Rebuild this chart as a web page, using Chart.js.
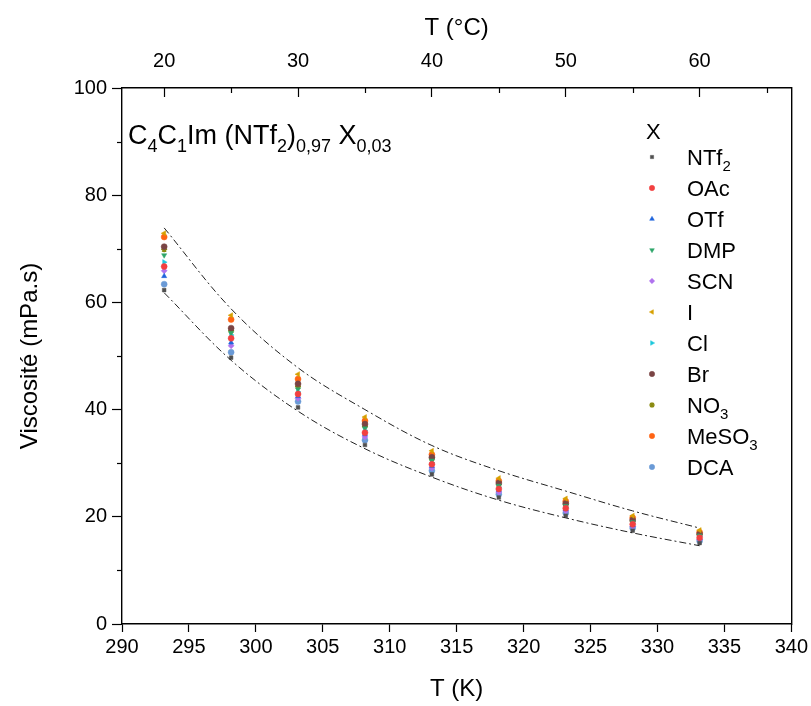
<!DOCTYPE html>
<html>
<head>
<meta charset="utf-8">
<script src="https://cdn.jsdelivr.net/npm/chart.js@4"></script>
<style>
  html, body { margin: 0; padding: 0; background: #ffffff; }
  #wrap { width: 811px; height: 706px; }
</style>
</head>
<body>
<div id="wrap"><canvas id="viscChart" width="811" height="706"></canvas></div>
<script>
// temperatures (K)
var temps = [293.15, 298.15, 303.15, 308.15, 313.15, 318.15, 323.15, 328.15, 333.15];

// viscosity (mPa.s) per anion X
var ntf2  = [62.3, 49.7, 40.4, 33.4, 27.9, 23.6, 20.2, 17.4, 15.1];
var oac   = [66.7, 53.3, 42.9, 35.7, 29.8, 25.2, 21.6, 18.6, 16.1];
var otf   = [64.9, 52.5, 42.5, 35.4, 29.5, 25.0, 21.4, 18.4, 16.0];
var dmp   = [68.8, 54.3, 43.8, 36.5, 30.5, 25.8, 22.0, 19.0, 16.5];
var scn   = [65.9, 51.9, 42.1, 34.9, 29.1, 24.6, 21.1, 18.2, 15.8];
var iod   = [72.9, 57.6, 46.6, 38.6, 32.3, 27.2, 23.4, 20.2, 17.5];
var cl    = [67.5, 53.9, 43.3, 36.1, 30.1, 25.5, 21.8, 18.8, 16.3];
var br    = [70.4, 55.2, 44.8, 37.3, 31.1, 26.3, 22.5, 19.4, 16.8];
var no3   = [69.9, 54.7, 44.3, 36.9, 30.8, 26.0, 22.3, 19.2, 16.7];
var meso3 = [72.2, 56.8, 45.7, 37.9, 31.6, 26.7, 22.9, 19.8, 17.1];
var dca   = [63.4, 50.7, 41.5, 34.3, 28.6, 24.2, 20.7, 17.9, 15.5];

// envelope curves (dash-dot)
var upperEnv = [73.9, 58.8, 47.8, 40.0, 33.3, 28.6, 24.8, 21.1, 17.9];
var lowerEnv = [61.8, 49.2, 39.7, 32.7, 27.4, 23.1, 19.8, 17.0, 14.6];

var seriesNames = ["NTf_{2}", "OAc", "OTf", "DMP", "SCN", "I", "Cl", "Br", "NO_{3}", "MeSO_{3}", "DCA"];
var seriesValues = [ntf2, oac, otf, dmp, scn, iod, cl, br, no3, meso3, dca];
var seriesColors = ["#505050", "#f24040", "#1f64dc", "#2ea66a", "#b072ee", "#d6a000", "#1cc8dc", "#7a4444", "#8a8a10", "#ff6414", "#6a9ad6"];
var seriesShapes = ["rect", "circle", "triangle", "triangle", "rectRot", "triangle", "triangle", "circle", "star", "circle", "circle"];
var seriesRot = [0, 0, 0, 180, 0, -90, 90, 0, 0, 0, 0];

var kTicks = [290, 295, 300, 305, 310, 315, 320, 325, 330, 335, 340];
var cTicks = [20, 30, 40, 50, 60];
var cMinor = [25, 35, 45, 55, 65];
var yMinor = [10, 30, 50, 70, 90];

var FONT = "'Liberation Sans', Arial, sans-serif";

function toXY(ys) {
  return ys.map(function (v, i) { return { x: temps[i], y: v }; });
}

var datasets = [];
datasets.push({
  type: 'line', label: 'upper', data: toXY(upperEnv),
  borderColor: '#222222', borderWidth: 1, borderDash: [7, 3, 2, 3],
  pointRadius: 0, tension: 0.35, fill: false
});
datasets.push({
  type: 'line', label: 'lower', data: toXY(lowerEnv),
  borderColor: '#222222', borderWidth: 1, borderDash: [7, 3, 2, 3],
  pointRadius: 0, tension: 0.35, fill: false
});
seriesNames.forEach(function (name, i) {
  datasets.push({
    type: 'scatter', label: name, data: toXY(seriesValues[i]),
    backgroundColor: seriesColors[i], borderColor: seriesColors[i],
    borderWidth: seriesShapes[i] === 'star' ? 1.4 : 0.5,
    pointStyle: seriesShapes[i], rotation: seriesRot[i],
    pointRadius: seriesShapes[i] === 'rect' ? 2.6 : 3
  });
});

// draw "A_{b}" style text with subscripts
function drawRich(ctx, str, x, y, size) {
  var parts = str.split(/(_\{[^}]*\})/);
  ctx.textBaseline = 'alphabetic';
  ctx.textAlign = 'left';
  parts.forEach(function (p) {
    if (!p) return;
    if (p.charAt(0) === '_') {
      var t = p.slice(2, -1);
      ctx.font = Math.round(size * 0.68) + 'px ' + FONT;
      ctx.fillText(t, x, y + size * 0.28);
      x += ctx.measureText(t).width;
    } else {
      ctx.font = size + 'px ' + FONT;
      ctx.fillText(p, x, y);
      x += ctx.measureText(p).width;
    }
  });
}

var decor = {
  id: 'decor',
  afterDraw: function (chart) {
    var ctx = chart.ctx;
    var sy = chart.scales.y, st = chart.scales.x2;
    var area = chart.chartArea;
    ctx.save();
    // minor ticks
    ctx.strokeStyle = '#000';
    ctx.lineWidth = 1.2;
    yMinor.forEach(function (v) {
      var py = Math.round(sy.getPixelForValue(v)) + 0.5;
      ctx.beginPath(); ctx.moveTo(area.left - 5, py); ctx.lineTo(area.left, py); ctx.stroke();
    });
    cMinor.forEach(function (v) {
      var px = Math.round(st.getPixelForValue(v)) + 0.5;
      ctx.beginPath(); ctx.moveTo(px, area.top); ctx.lineTo(px, area.top + 5); ctx.stroke();
    });
    // composition label
    ctx.fillStyle = '#000';
    drawRich(ctx, 'C_{4}C_{1}Im (NTf_{2})_{0,97} X_{0,03}', 128, 144, 27);
    // legend
    ctx.font = '22px ' + FONT;
    ctx.fillText('X', 646, 139);
    chart.data.datasets.forEach(function (ds, i) {
      if (ds.type !== 'scatter') return;
      var k = i - 2;
      var cy = 157 + k * 31;
      ctx.fillStyle = ds.backgroundColor;
      ctx.strokeStyle = ds.borderColor;
      ctx.lineWidth = ds.borderWidth;
      Chart.helpers.drawPoint(ctx, {
        pointStyle: ds.pointStyle, rotation: ds.rotation,
        radius: ds.pointStyle === 'rect' ? 2.3 : 2.7, borderWidth: ds.borderWidth
      }, 652, cy);
      ctx.fillStyle = '#000';
      drawRich(ctx, ds.label, 687, cy + 8, 22);
    });
    ctx.restore();
  }
};

var ctx = document.getElementById('viscChart').getContext('2d');
var myChart = new Chart(ctx, {
  data: { datasets: datasets },
  options: {
    responsive: false,
    animation: false,
    layout: { padding: 0 },
    plugins: {
      legend: { display: false },
      tooltip: { enabled: false }
    },
    scales: {
      x: {
        type: 'linear', position: 'bottom', min: 290, max: 340,
        afterBuildTicks: function (s) { s.ticks = kTicks.map(function (v) { return { value: v }; }); },
        afterFit: function (s) { s.height = 82; },
        ticks: { color: '#000', font: { family: FONT, size: 20 }, padding: 3, maxRotation: 0 },
        grid: { drawOnChartArea: false, tickLength: 8, tickColor: '#000', tickWidth: 1.2 },
        border: { color: '#000', width: 1.4 },
        title: { display: true, text: 'T (K)', color: '#000', font: { family: FONT, size: 24 }, padding: { top: 0, bottom: 2 } }
      },
      x2: {
        type: 'linear', position: 'top', min: 290 - 273.15, max: 340 - 273.15,
        afterBuildTicks: function (s) { s.ticks = cTicks.map(function (v) { return { value: v }; }); },
        afterFit: function (s) { s.height = 88; },
        ticks: { color: '#000', font: { family: FONT, size: 20 }, padding: 24, maxRotation: 0 },
        grid: { drawOnChartArea: false, tickLength: -9, tickColor: '#000', tickWidth: 1.2 },
        border: { color: '#000', width: 1.4 },
        title: { display: true, text: 'T (°C)', color: '#000', font: { family: FONT, size: 24 }, padding: { top: 14, bottom: 0 } }
      },
      y: {
        type: 'linear', position: 'left', min: 0, max: 100,
        afterBuildTicks: function (s) { s.ticks = [0, 20, 40, 60, 80, 100].map(function (v) { return { value: v }; }); },
        afterFit: function (s) { s.width = 122; },
        ticks: { color: '#000', font: { family: FONT, size: 20 }, padding: 5 },
        grid: { drawOnChartArea: false, tickLength: 10, tickColor: '#000', tickWidth: 1.2 },
        border: { color: '#000', width: 1.4 },
        title: { display: true, text: 'Viscosité (mPa.s)', color: '#000', font: { family: FONT, size: 24 }, padding: { top: 16, bottom: 0 } }
      },
      y2: {
        type: 'linear', position: 'right', min: 0, max: 100,
        afterFit: function (s) { s.width = 18; },
        ticks: { display: false },
        grid: { drawOnChartArea: false, drawTicks: false },
        border: { color: '#000', width: 1.4 }
      }
    }
  },
  plugins: [decor]
});
</script>
</body>
</html>
